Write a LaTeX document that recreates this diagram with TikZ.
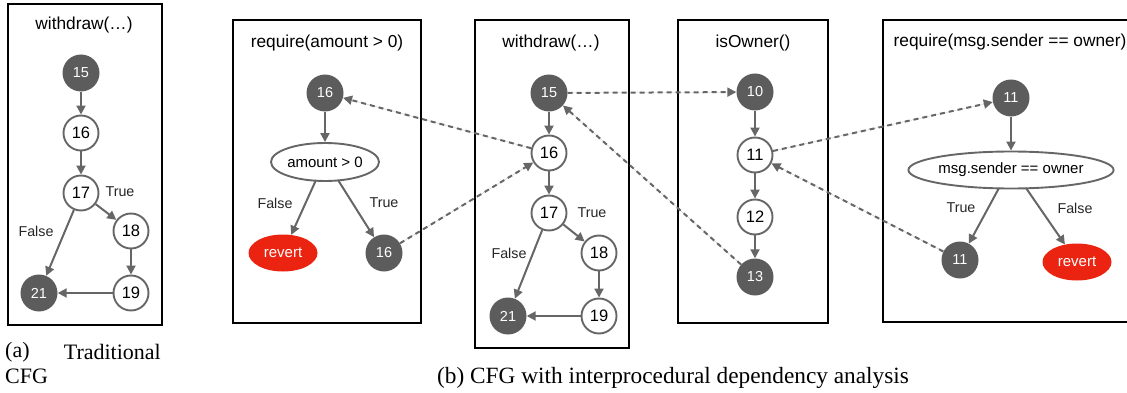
\documentclass[tikz,border=0pt]{standalone}
\usepackage{fontspec}
\setmainfont{Liberation Serif}
\newfontfamily\hv{Liberation Sans}
\usetikzlibrary{arrows.meta,shapes.geometric}
\definecolor{dk}{RGB}{92,92,92}
\definecolor{eg}{RGB}{102,102,102}
\definecolor{rv}{RGB}{234,36,16}
\tikzset{
  dnode/.style={circle, fill=dk, minimum size=37pt, inner sep=0pt, text=white, font=\hv\fontsize{14.5}{15}\selectfont},
  wnode/.style={circle, draw=eg, line width=1.9pt, fill=white, minimum size=35pt, inner sep=0pt, font=\hv\fontsize{16.5}{17}\selectfont},
  cond/.style={ellipse, draw=eg, line width=1.9pt, fill=white, inner sep=0pt, font=\hv\fontsize{15}{16}\selectfont},
  rev/.style={ellipse, fill=rv, text=white, minimum width=69pt, minimum height=37pt, inner sep=0pt, font=\hv\fontsize{15}{16}\selectfont},
  ttl/.style={font=\hv\fontsize{17.3}{18}\selectfont, inner sep=0pt},
  lbl/.style={font=\hv\fontsize{14.3}{15}\selectfont, text=black!85, inner sep=0pt},
  captxt/.style={font=\fontsize{22}{24}\selectfont, inner sep=0pt},
  box/.style={draw=black, line width=2.2pt},
  flow/.style={-{Triangle[length=9pt,width=9pt]}, line width=2pt, draw=eg, fill=eg},
  dep/.style={-{Triangle[length=9pt,width=9pt]}, line width=2pt, draw=eg, fill=eg, dash pattern=on 5pt off 4pt},
}
\begin{document}
\begin{tikzpicture}[x=1pt, y=-1pt]
\useasboundingbox (0,0) rectangle (1127,393);

% ---------- panel (a)
\draw[box] (8,4) rectangle (162,325);
\node[ttl] (ta) at (84,25) {withdraw(…)};
\node[dnode] (a15) at (81,73) {15};
\node[wnode] (a16) at (81,133) {16};
\node[wnode] (a17) at (81,193) {17};
\node[wnode] (a18) at (131,231) {18};
\node[wnode] (a19) at (131,293) {19};
\node[dnode] (a21) at (39,293) {21};
\draw[flow] (a15) -- (a16);
\draw[flow] (a16) -- (a17);
\draw[flow] (a17) -- (a18);
\draw[flow] (a18) -- (a19);
\draw[flow] (a19) -- (a21);
\draw[flow] (a17) -- (a21);
\node[lbl] (at) at (120,192) {True};
\node[lbl] (af) at (36,231) {False};
\node[captxt, anchor=west] (ca1) at (5,352) {(a)};
\node[captxt, anchor=east] (ca2) at (161,352) {Traditional};
\node[captxt, anchor=west] (ca3) at (5,376) {CFG};

% ---------- box 1: require(amount > 0)
\draw[box] (233,20) rectangle (421,323);
\node[ttl] (t1) at (327,43) {require(amount > 0)};
\node[dnode] (r16) at (325,93) {16};
\node[cond, minimum width=108pt, minimum height=38pt] (c1) at (325,162) {amount > 0};
\node[rev] (rv1) at (283,253) {revert};
\node[dnode] (r16b) at (384,253) {16};
\draw[flow] (r16) -- (c1);
\coordinate (c1f) at (316,180);
\coordinate (c1t) at (338,180);
\draw[flow] (c1f) -- (rv1);
\draw[flow] (c1t) -- (r16b);
\node[lbl] (f1) at (275,203) {False};
\node[lbl] (tr1) at (384,203) {True};

% ---------- box 2: withdraw
\draw[box] (475,20) rectangle (629,348);
\node[ttl] (t2) at (551,43) {withdraw(…)};
\node[dnode] (w15) at (549,93) {15};
\node[wnode] (w16) at (549,153) {16};
\node[wnode] (w17) at (549,213) {17};
\node[wnode] (w18) at (599,253) {18};
\node[wnode] (w19) at (599,316) {19};
\node[dnode] (w21) at (508,316) {21};
\draw[flow] (w15) -- (w16);
\draw[flow] (w16) -- (w17);
\draw[flow] (w17) -- (w18);
\draw[flow] (w18) -- (w19);
\draw[flow] (w19) -- (w21);
\draw[flow] (w17) -- (w21);
\node[lbl] (tr2) at (592,213) {True};
\node[lbl] (f2) at (509,253) {False};

% ---------- box 3: isOwner()
\draw[box] (678,20) rectangle (828,323);
\node[ttl] (t3) at (753,43) {isOwner()};
\node[dnode] (o10) at (755,92) {10};
\node[wnode] (o11) at (755,155) {11};
\node[wnode] (o12) at (755,217) {12};
\node[dnode] (o13) at (755,277) {13};
\draw[flow] (o10) -- (o11);
\draw[flow] (o11) -- (o12);
\draw[flow] (o12) -- (o13);

% ---------- box 4: require(msg.sender == owner)
\draw[box] (1140,20) -- (883,20) -- (883,322) -- (1140,322);
\node[ttl] (t4) at (1010,42) {require(msg.sender == owner)};
\node[dnode] (q11) at (1011,98) {11};
\node[cond, minimum width=201pt, minimum height=37pt] (c2) at (1011,170) {msg.sender == owner};
\node[dnode] (q11b) at (960,260) {11};
\node[rev] (rv2) at (1077,262) {revert};
\draw[flow] (q11) -- (c2);
\coordinate (c2t) at (999,188);
\coordinate (c2f) at (1026,188);
\draw[flow] (c2t) -- (q11b);
\draw[flow] (c2f) -- (rv2);
\node[lbl] (tr4) at (961,208) {True};
\node[lbl] (f4) at (1075,208) {False};

% ---------- interprocedural dependencies
\draw[dep] (w16) -- (r16);
\draw[dep] (r16b) -- (w16);
\draw[dep] (w15) -- (o10);
\draw[dep] (o13) -- (w15);
\draw[dep] (o11) -- (q11);
\draw[dep] (q11b) -- (o11);

\node[captxt] (cb) at (673,378) {\fontsize{23.3}{25}\selectfont (b) CFG with interprocedural dependency analysis};
\end{tikzpicture}
\end{document}
